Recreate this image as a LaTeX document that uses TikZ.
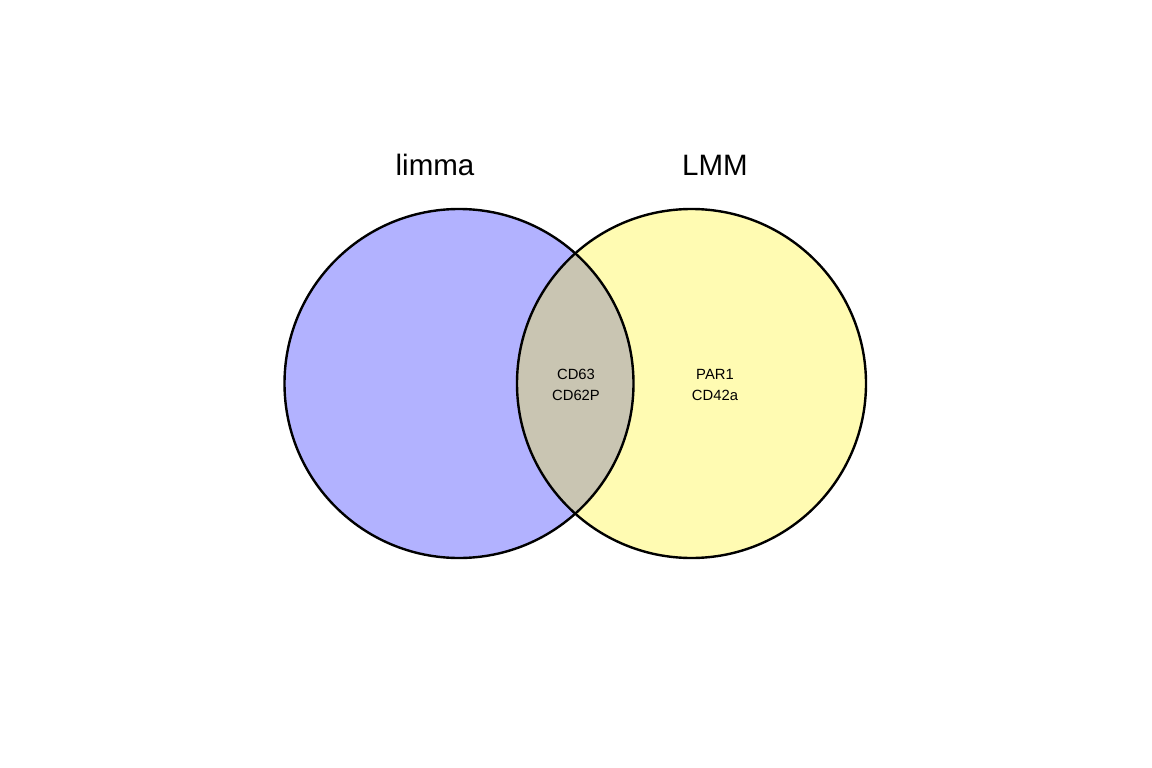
\documentclass[tikz,border=0pt]{standalone}
\usepackage{fontspec}
\setmainfont{Liberation Sans}
\begin{document}
\begin{tikzpicture}[x=1pt,y=-1pt,
  titlelabel/.style={anchor=base,inner sep=0pt,font=\fontsize{29.5}{34}\selectfont},
  setlabel/.style={anchor=base,inner sep=0pt,font=\fontsize{14.8}{18}\selectfont},
  setfill/.style={fill opacity=0.3},
  setline/.style={draw=black,line width=2.4pt}]
\useasboundingbox (0,0) rectangle (1152,768);
\fill[white] (0,0) rectangle (1152,768);
\coordinate (cl) at (459,383.5);
\coordinate (cr) at (691.5,383.5);
\fill[setfill,blue] (cl) circle[radius=174.5];
\fill[setfill,yellow] (cr) circle[radius=174.5];
\draw[setline] (cl) circle[radius=174.5];
\draw[setline] (cr) circle[radius=174.5];
\node[titlelabel] (tl) at (435,175) {limma};
\node[titlelabel] (tr) at (715,175) {LMM};
\node[setlabel] (a1) at (576,379.3) {CD63};
\node[setlabel] (a2) at (576,400.7) {CD62P};
\node[setlabel] (b1) at (715,379.3) {PAR1};
\node[setlabel] (b2) at (715,400.7) {CD42a};
\end{tikzpicture}
\end{document}
